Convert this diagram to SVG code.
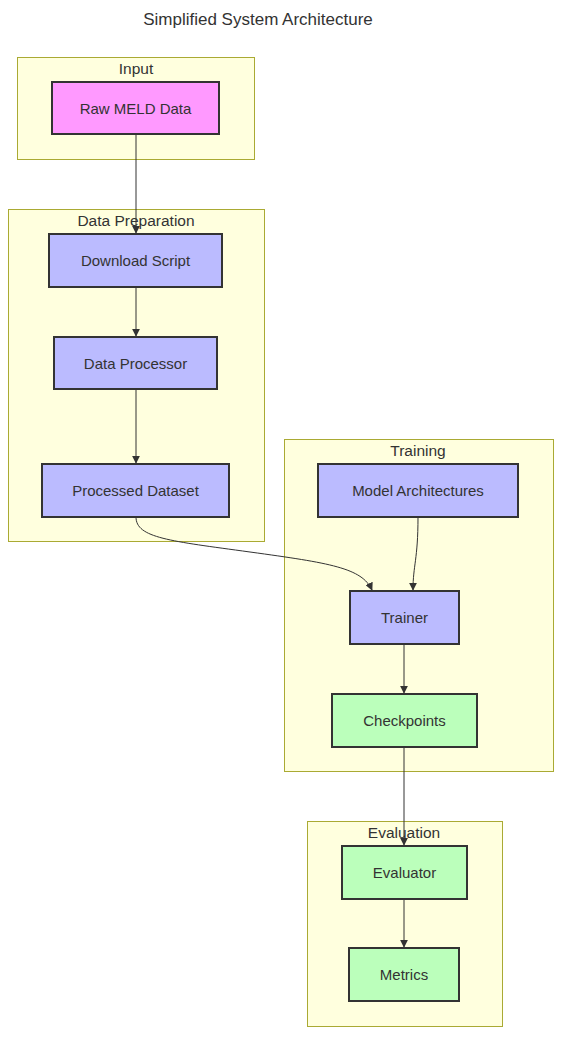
<svg xmlns="http://www.w3.org/2000/svg" width="569" height="1048" viewBox="0 0 569 1048">
<defs>
<style>
.cluster{fill:#ffffde;stroke:#aaaa33;stroke-width:1}
.ctitle{font-family:"Liberation Sans",Arial,sans-serif;font-size:15.5px;fill:#333;text-anchor:middle}
.node rect{stroke:#333;stroke-width:2}
.pink{fill:#ff99ff}
.blue{fill:#bbbbff}
.green{fill:#bbffbb}
.node text{font-family:"Liberation Sans",Arial,sans-serif;font-size:15px;fill:#333;text-anchor:middle;dominant-baseline:central}
.edge{fill:none;stroke:#333;stroke-width:1}
</style>
<marker id="arrow" viewBox="0 0 10 10" refX="9" refY="5" markerWidth="8" markerHeight="8" markerUnits="userSpaceOnUse" orient="auto">
<path d="M0,0 L10,5 L0,10 z" fill="#333"/>
</marker>
</defs>
<rect width="569" height="1048" fill="#ffffff"/>
<text x="258" y="25" font-family="'Liberation Sans',Arial,sans-serif" font-size="17" fill="#333" text-anchor="middle">Simplified System Architecture</text>

<g id="cluster-input">
<rect class="cluster" x="17.5" y="57.5" width="237" height="102"/>
<text class="ctitle" x="136" y="74">Input</text>
</g>
<g id="cluster-dataprep">
<rect class="cluster" x="8.5" y="209.5" width="256" height="332"/>
<text class="ctitle" x="136" y="226">Data Preparation</text>
</g>
<g id="cluster-training">
<rect class="cluster" x="284.5" y="439.5" width="269" height="332"/>
<text class="ctitle" x="418" y="456">Training</text>
</g>
<g id="cluster-evaluation">
<rect class="cluster" x="307.5" y="821.5" width="195" height="205"/>
<text class="ctitle" x="404" y="838">Evaluation</text>
</g>

<g id="edges">
<path class="edge" d="M136,134 L136,233" marker-end="url(#arrow)"/>
<path class="edge" d="M136,287 L136,336" marker-end="url(#arrow)"/>
<path class="edge" d="M136,389 L136,463" marker-end="url(#arrow)"/>
<path class="edge" d="M136,517 C136,538 170,541 250,552 C330,563 362,568 372,590" marker-end="url(#arrow)"/>
<path class="edge" d="M418,517 C418,560 413,565 413,590" marker-end="url(#arrow)"/>
<path class="edge" d="M404,644 L404,693" marker-end="url(#arrow)"/>
<path class="edge" d="M404,747 L404,845" marker-end="url(#arrow)"/>
<path class="edge" d="M404,899 L404,947" marker-end="url(#arrow)"/>
</g>

<g id="node-raw" class="node"><rect class="pink" x="52" y="82" width="167" height="52"/><text x="135.5" y="108">Raw MELD Data</text></g>
<g id="node-download" class="node"><rect class="blue" x="49" y="234" width="173" height="53"/><text x="135.5" y="260.5">Download Script</text></g>
<g id="node-processor" class="node"><rect class="blue" x="54" y="337" width="163" height="52"/><text x="135.5" y="363">Data Processor</text></g>
<g id="node-dataset" class="node"><rect class="blue" x="42" y="464" width="187" height="53"/><text x="135.5" y="490.5">Processed Dataset</text></g>
<g id="node-model" class="node"><rect class="blue" x="318" y="464" width="200" height="53"/><text x="418" y="490.5">Model Architectures</text></g>
<g id="node-trainer" class="node"><rect class="blue" x="350" y="591" width="109" height="53"/><text x="404.5" y="617.5">Trainer</text></g>
<g id="node-checkpoints" class="node"><rect class="green" x="332" y="694" width="145" height="53"/><text x="404.5" y="720.5">Checkpoints</text></g>
<g id="node-evaluator" class="node"><rect class="green" x="342" y="846" width="125" height="53"/><text x="404.5" y="872.5">Evaluator</text></g>
<g id="node-metrics" class="node"><rect class="green" x="349" y="948" width="110" height="53"/><text x="404" y="974.5">Metrics</text></g>
</svg>
